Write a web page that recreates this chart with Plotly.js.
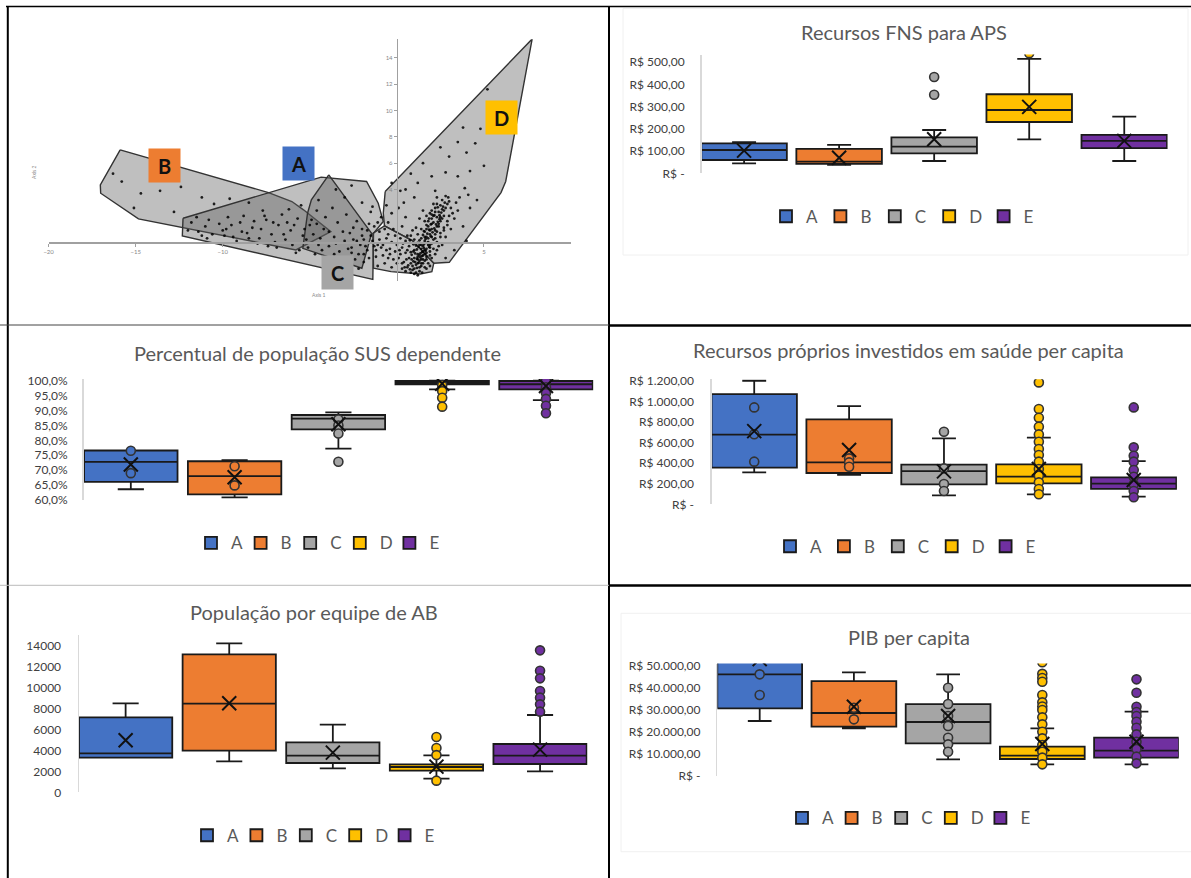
<!DOCTYPE html>
<html><head><meta charset="utf-8">
<script src="https://cdn.plot.ly/plotly-3.0.1.min.js"></script>
<style>html,body{margin:0;padding:0;background:#fff;}#chart{width:1191px;height:878px;}</style>
</head><body><div id="chart"></div>
<script>
const W = 1191, H = 878;
const clusters = ['A','B','C','D','E'];
const colors = ['#4472C4','#ED7D31','#A5A5A5','#FFC000','#7030A0'];

// ---------- Panel 1: cluster map (Axis 1 x Axis 2) ----------
const hullB = [[-15.89,7.01],[-17.03,4.35],[-17.01,3.72],[-14.84,1.77],[-5.80,-0.58],[-3.79,0.81],[-5.36,2.46],[-6.03,3.09],[-7.37,3.77]];
const hullA = [[-12.28,1.82],[-4.35,4.94],[-1.74,4.61],[-1.07,2.96],[-0.78,1.57],[-1.34,0.68],[-1.38,-2.81],[-12.32,0.48]];
const hullC = [[-3.91,5.11],[-4.91,3.22],[-5.13,2.20],[-5.40,-0.46],[-2.01,-1.97],[-1.45,0.68]];
const hullD = [[-0.67,3.85],[7.77,15.42],[6.25,4.61],[5.98,3.77],[3.01,-1.52],[2.12,-1.59],[0.89,0.13],[-0.71,1.24],[-0.78,2.20]];
const hullE = [[-0.71,1.24],[0.89,0.13],[2.12,-1.59],[2.01,-2.23],[1.34,-2.41],[-0.33,-2.23],[-1.34,-1.97],[-1.38,0.68]];
const cloudPoints = [
[0.6,-1.9],[0.8,-1.6],[0.9,-2.1],[1.0,-1.2],[1.1,-1.7],[1.2,-0.9],[1.0,-0.6],[1.3,-1.4],[1.4,-0.5],[1.5,-1.0],
[1.3,-0.2],[1.6,0.1],[1.5,-0.3],[1.7,0.4],[1.8,-0.2],[1.6,0.8],[1.9,0.6],[2.0,1.0],[1.8,1.2],[2.1,1.5],
[2.2,0.9],[2.0,1.8],[2.3,1.9],[2.4,2.3],[2.2,2.6],[2.5,2.8],[2.6,3.2],[2.7,2.4],[2.8,3.5],[2.4,1.4],
[2.6,1.8],[2.9,2.9],[3.0,3.1],[1.1,-2.3],[0.7,-1.2],[0.5,-0.8],[0.4,-1.5],[0.2,-0.9],[0.3,-0.4],[0.1,-1.2],
[-0.1,-0.7],[0.0,-0.2],[0.2,0.3],[0.5,0.1],[0.7,-0.3],[0.8,0.5],[1.0,0.2],[1.2,0.6],[1.4,1.0],[1.1,1.1],
[0.9,0.9],[1.6,1.6],[1.9,2.2],[1.7,2.0],[2.1,2.9],[2.3,3.4],[1.5,2.4],[1.3,1.8],[1.2,-1.1],[1.4,-1.8],
[1.7,-1.3],[1.9,-0.7],[2.0,-0.1],[2.2,0.3],[2.5,0.7],[1.6,-0.6],[1.8,0.0],[1.45,-0.75],[1.25,-0.35],[1.05,-0.85],
[0.95,-1.45],[1.15,-1.95],[1.35,-1.15],[1.55,-0.15],[1.75,0.65],[1.95,1.35],[2.15,2.05],[2.35,2.65],[2.55,2.25],[1.85,0.95],
[1.65,0.25],[1.5,0.55],[1.3,0.15],[1.1,-0.25],[0.85,-0.95],[0.65,-1.75],[0.75,-2.05],[1.0,-2.0],[1.3,-2.2],[1.6,-1.9],
[1.8,-1.6],[2.0,-1.2],[2.3,-0.6],[2.6,-0.2],[2.8,0.4],[3.1,1.0],[3.3,1.8],[3.5,2.4],[3.2,2.2],[2.9,1.6],
[2.7,1.1],[3.4,3.0],[3.6,3.4],[1.4,-1.6],[1.5,-1.3],[1.6,-0.9],[1.7,-0.5],[1.8,0.3],[1.9,0.9],[2.0,1.4],
[2.1,2.0],[2.2,2.3],[1.2,-1.6],[1.3,-1.0],[1.4,-0.2],[1.6,0.4],[1.7,1.0],[1.8,1.6],[2.0,2.4],[2.3,2.9],
[1.3,-1.9],[1.5,-1.6],[1.7,-1.1],[1.9,-0.4],[2.1,0.2],[2.3,0.8],[2.4,1.2],[2.5,1.6],[2.7,2.0],[2.8,2.6],
[1.2,-1.3],[1.4,-1.3],[1.6,-1.4],[1.5,-0.7],[1.7,-0.8],[1.9,-0.2],[2.0,0.4],[2.2,0.6],[2.3,1.2],[2.5,1.9],
[1.35,-0.85],[1.55,-0.45],[1.75,-0.05],[1.95,0.45],[2.15,1.05],[2.35,1.55],[2.45,2.05],[2.65,2.7],[2.75,3.0],[2.95,3.4],
[1.25,-1.55],[1.45,-1.05],[1.65,-0.65],[1.85,-0.35],[2.05,0.75],[2.25,1.35],[2.45,1.75],[2.6,2.5],[1.15,-1.25],[1.05,-1.5],
[0.9,-1.8],[0.85,-1.3],[0.95,-0.7],[1.15,-0.55],[1.2,-0.05],[1.4,0.3],[1.55,0.85],[1.7,1.3],[1.85,1.8],[2.0,2.1],
[0.55,-1.3],[0.45,-1.9],[0.3,-1.6],[0.15,-0.6],[0.35,-0.1],[0.6,0.5],[0.75,0.15],[0.95,-0.15],[0.6,-0.6],[0.8,-0.75],
[1.9,-1.0],[2.1,-0.5],[2.3,0.0],[2.5,0.4],[2.7,0.9],[2.9,1.3],[3.0,2.0],[3.1,2.6],[2.2,-0.9],[2.4,-0.3],
[1.0,-2.4],[1.2,-2.5],[0.8,-2.3],[1.45,-2.3],[1.7,-2.0],[1.9,-1.8],[0.5,-2.2],[0.3,-2.0],[0.0,-1.6],[-0.2,-1.3],
[-0.4,-0.9],[-0.6,-0.6],[-0.8,-0.2],[-1.0,0.2],[-0.3,0.0],[-0.5,0.6],[-0.9,-0.4],[-1.3,-0.3],[-1.5,0.5],[-1.9,-0.9],
[-2.3,0.1],[-2.6,-0.4],[-1.7,-0.6],[-1.2,-1.1],[-0.7,1.0],[-1.1,1.5],[-1.6,1.4],[-2.0,1.0],[-2.5,1.1],[-3.1,0.8],
[-2.8,-0.5],[-2.5,0.2],[-2.2,-0.9],[-2.0,0.5],[-1.8,-0.3],[-1.6,-1.2],[-1.4,0.1],[-1.2,-0.6],[-1.0,0.8],[-0.8,-1.0],
[-0.6,0.3],[-0.4,-0.5],[-0.2,1.0],[-0.5,1.5],[-0.9,1.9],[-1.3,1.2],[-1.7,0.9],[-2.1,-0.2],[-2.4,-1.3],[-2.7,0.7],
[-3.0,0.1],[-3.3,-0.7],[-3.6,0.4],[-3.9,-0.3],[-4.2,1.0],[-4.5,-0.2],[-4.8,0.6],[-5.1,-0.4],[-3.4,1.5],[-2.9,2.1],
[-3.7,2.6],[-4.1,1.9],[-2.3,1.6],[-1.5,2.3],[-0.7,-1.6],[-0.3,-1.9],[-1.1,-1.8],[-1.9,-1.5],[-2.6,-1.6],[-0.1,0.5],
[-0.3,2.2],[-0.6,2.8],[0.3,1.2],[0.5,1.9],[0.1,2.6],[0.4,3.0],[-4.6,2.4],[-5.0,1.3],[-5.4,0.5],[-5.7,1.8],
[-6.1,0.9],[-6.4,0.2],[-6.8,1.3],[-7.2,0.6],[-7.5,1.7],[-7.9,0.3],[-8.3,1.1],[-8.6,0.7],[-9.0,1.5],[-9.4,0.4],
[-9.8,1.0],[-10.2,1.4],[-10.6,0.6],[-11.0,1.2],[-11.4,0.8],[-11.8,1.5],[-6.6,2.1],[-7.7,2.4],[-8.8,2.0],[-9.7,1.9],
[-6.0,-0.2],[-7.0,0.0],[-8.0,-0.1],[-5.6,-0.6],[-4.7,-0.9],[-3.8,-1.2],[-3.1,-1.7],[-2.2,-2.0],[-10.9,0.3],[-12.0,0.9],
[-9.2,0.1],[-7.4,-0.3],[-6.3,1.5],[-5.3,1.0],[-4.4,0.3],[-3.5,-0.1],[-2.6,-0.8],[-1.9,0.2],[-1.1,-0.2],[-0.5,-1.2],
[-11.5,1.9],[-10.8,1.7],[-10.0,0.9],[-9.5,1.3],[-8.9,0.8],[-8.2,1.6],[-7.8,1.0],[-7.1,1.5],[-6.5,0.6],[-5.9,1.3],
[-5.2,0.2],[-4.9,1.7],[-8.5,0.3],[-9.9,0.5],[-11.2,0.5],[-6.9,-0.4],[-5.8,-0.8],[-4.3,-0.6],[-3.6,-0.9],[-2.9,-1.2],
[-7.6,2.0],[-6.2,2.5],[-5.5,2.8],[-4.6,1.4],[-3.9,0.8],
[-15.8,4.6],[-14.7,3.7],[-13.6,3.9],[-12.4,4.2],[-11.2,3.4],[-16.3,5.2],[-15.1,2.6],[-12.8,2.3],[-10.5,2.9],[-9.6,3.3],
[-8.5,3.0],[-3.5,4.0],[-2.6,4.3],[-4.5,3.2],[-3.0,3.4],[-2.0,3.0],[-1.4,2.7],
[0.5,4.0],[1.2,4.5],[2.0,5.0],[2.8,5.3],[3.5,5.0],[4.2,5.4],[3.0,6.5],[4.0,6.8],[2.5,7.2],[3.5,7.6],
[4.5,7.5],[1.5,6.0],[0.8,5.2],[2.2,3.9],[3.9,4.1],[4.6,3.2],[4.2,2.6],[3.8,1.2],[4.0,0.1],[3.3,-0.6],
[2.8,-1.2],[5.0,5.8],[5.4,9.0],[4.8,8.6],[3.8,8.7],[5.2,11.6],[4.1,3.6],[1.0,3.4],[0.2,3.9],[-0.3,4.5]
];
const axis1Ticks = [-20,-15,-10,5];
const axis2Ticks = [4,6,8,10,12,14];
const labelPos = {A:[-5.67,6.0], B:[-13.33,5.84], C:[-3.42,-2.28], D:[5.98,9.49], E:[2.68,-3.27]};

// ---------- Panel 2: Recursos FNS para APS ----------
const fnsQ1 = [60,42,90,231,113];
const fnsMedian = [105,52.5,120,285,146];
const fnsQ3 = [135,110,162,356,173];
const fnsLower = [45,38,55.5,153,55.5];
const fnsUpper = [140,128,195,515,255];
const fnsMean = [102,70,153,299,146];
const fnsPoints = [[],[],[434,354],[541],[]];
const fnsTickVals = [0,100,200,300,400,500];
const fnsTickText = ['R$ -','R$ 100,00','R$ 200,00','R$ 300,00','R$ 400,00','R$ 500,00'];

// ---------- Panel 3: Percentual de população SUS dependente ----------
const susQ1 = [66.1,61.9,83.7,98.8,97.1];
const susMedian = [72.8,68.0,87.3,99.4,98.8];
const susQ3 = [76.6,73.0,88.5,99.9,99.9];
const susLower = [63.6,60.9,77.2,97.1,93.5];
const susUpper = [76.6,73.4,89.4,100.0,100.0];
const susMean = [71.9,67.6,85.4,99.0,98.2];
const susPoints = [[76.5,69.0],[71.3,64.9],[87.0,85.0,82.3,72.8],[98.5,96.5,94.3,91.3],[99.9,97.8,95.8,93.9,91.6,89.1]];
const susTickVals = [60,65,70,75,80,85,90,95,100];
const susTickText = ['60,0%','65,0%','70,0%','75,0%','80,0%','85,0%','90,0%','95,0%','100,0%'];

// ---------- Panel 4: Recursos próprios investidos em saúde per capita ----------
const rpQ1 = [356,304,194,204,149];
const rpMedian = [676,407,323,268,200];
const rpQ3 = [1070,825,385,388,262];
const rpLower = [310,285,87,97,74];
const rpUpper = [1200,954,640,647,420];
const rpMean = [711,527,320,343,236];
const rpPoints = [[941,680,414],[446,407,365],[705,349,197,129],[1184,925,841,754,679,608,537,479,414,343,278,213,149,97],[941,553,472,414,333,268,194,129,68]];
const rpTickVals = [0,200,400,600,800,1000,1200];
const rpTickText = ['R$ -','R$ 200,00','R$ 400,00','R$ 600,00','R$ 800,00','R$ 1.000,00','R$ 1.200,00'];

// ---------- Panel 5: População por equipe de AB ----------
const popQ1 = [3309,3977,2800,2068,2704];
const popMedian = [3723,8463,3500,2418,3500];
const popQ3 = [7159,13172,4773,2673,4613];
const popLower = [3309,2959,2291,1304,2004];
const popUpper = [8495,14222,6459,3532,7381];
const popMean = [4963,8495,3786,2450,4072];
const popPoints = [[],[],[],[5282,4232,3550,1114],[13554,11613,10881,9672,9036,8400,7700]];
const popTickVals = [0,2000,4000,6000,8000,10000,12000,14000];
const popTickText = ['0','2000','4000','6000','8000','10000','12000','14000'];

// ---------- Panel 6: PIB per capita ----------
const pibQ1 = [30665,22356,14804,7704,8308];
const pibMedian = [46073,28550,24471,9215,11480];
const pibQ3 = [55000,43051,32628,13293,17372];
const pibLower = [24924,21601,7553,5287,5287];
const pibUpper = [60000,46979,46073,21601,29154];
const pibMean = [53000,31420,27190,14502,15559];
const pibPoints = [[46073,36707],[30967,25680],[40030,32628,27190,22659,17372,14350,11027],
  [51600,46300,44400,42749,36707,33384,31500,29909,26586,23414,20091,17069,14048,11027,8308,5287],
  [43807,37764,31420,29000,27190,24622,21903,18882,15559,12236,8761,5740]];
const pibTickVals = [0,10000,20000,30000,40000,50000];
const pibTickText = ['R$ -','R$ 10.000,00','R$ 20.000,00','R$ 30.000,00','R$ 40.000,00','R$ 50.000,00'];

const titles = ['Recursos FNS para APS','Percentual de população SUS dependente','Recursos próprios investidos em saúde per capita','População por equipe de AB','PIB per capita'];

// ---------- helpers ----------
const px = v => v / W;
const py = v => 1 - v / H;
const FONT = 'Lato, "Open Sans", sans-serif';

const traces = [];
const annotations = [];
const layout = {
  width: W, height: H, margin: {l:0, r:0, t:0, b:0},
  paper_bgcolor: '#fff', plot_bgcolor: 'rgba(0,0,0,0)',
  showlegend: true, font: {family: FONT}, annotations: annotations, shapes: []
};

// Panel 1 traces
const hulls = {B: hullB, A: hullA, C: hullC, D: hullD, E: hullE};
['B','A','C','D','E'].forEach(k => {
  const h = hulls[k].concat([hulls[k][0]]);
  traces.push({type:'scatter', mode:'lines', x:h.map(p=>p[0]), y:h.map(p=>p[1]), fill:'toself',
    fillcolor:'rgba(95,95,95,0.40)', line:{color:'#333', width:1.4}, xaxis:'x', yaxis:'y',
    showlegend:false, hoverinfo:'skip'});
});
traces.push({type:'scatter', mode:'markers', x:cloudPoints.map(p=>p[0]), y:cloudPoints.map(p=>p[1]),
  marker:{size:2.8, color:'rgba(0,0,0,0.85)'}, xaxis:'x', yaxis:'y', showlegend:false, hoverinfo:'skip'});
clusters.forEach((c,i) => {
  annotations.push({x:labelPos[c][0], y:labelPos[c][1], xref:'x', yref:'y', text:'<b>'+c+'</b>',
    showarrow:false, bgcolor:colors[i], width:31, height:33, borderpad:0,
    font:{family:FONT, size:20, color:'#111'}});
});
layout.xaxis = {domain:[px(48.6), px(571)], range:[-20,10], anchor:'free', position:py(242.3),
  showline:true, linecolor:'#a0a0a0', linewidth:1.5, ticks:'outside', ticklen:3, tickcolor:'#a0a0a0',
  tickvals:axis1Ticks, tickfont:{size:6, color:'#888'}, showgrid:false, zeroline:false, fixedrange:true};
layout.yaxis = {domain:[py(280.5), py(39.2)], range:[-2.9,15.4], anchor:'free', position:px(396.8),
  showline:true, linecolor:'#a0a0a0', linewidth:1.5, ticks:'outside', ticklen:3, tickcolor:'#a0a0a0',
  tickvals:axis2Ticks, tickfont:{size:6, color:'#888'}, showgrid:false, zeroline:false, fixedrange:true};
annotations.push({x:px(310), y:py(295), xref:'paper', yref:'paper', text:'Axis 1', showarrow:false, font:{size:5, color:'#888'}});
annotations.push({x:px(29), y:py(163), xref:'paper', yref:'paper', text:'Axis 2', textangle:-90, showarrow:false, font:{size:5, color:'#888'}});

// Box panels
const panels = [
  {q1:fnsQ1, med:fnsMedian, q3:fnsQ3, lo:fnsLower, hi:fnsUpper, mean:fnsMean, pts:fnsPoints, tv:fnsTickVals, tt:fnsTickText,
   yr:[0,535], xd:[701.5,1167.6], yd:[54.5,173.3], xr:[-0.448,4.456], title:[903.8,32.3], leg:[766,216.7,9.4], stand:13},
  {q1:susQ1, med:susMedian, q3:susQ3, lo:susLower, hi:susUpper, mean:susMean, pts:susPoints, tv:susTickVals, tt:susTickText,
   yr:[59.9,100.6], xd:[83.6,593.3], yd:[378.9,500.3], xr:[-0.455,4.456], title:[317,353.3], leg:[191,543.3,4.6], stand:12},
  {q1:rpQ1, med:rpMedian, q3:rpQ3, lo:rpLower, hi:rpUpper, mean:rpMean, pts:rpPoints, tv:rpTickVals, tt:rpTickText,
   yr:[0,1215], xd:[711.9,1176.9], yd:[379.2,504.3], xr:[-0.446,4.455], title:[908.6,350], leg:[770,546.7,8.9], stand:14},
  {q1:popQ1, med:popMedian, q3:popQ3, lo:popLower, hi:popUpper, mean:popMean, pts:popPoints, tv:popTickVals, tt:popTickText,
   yr:[0,15020], xd:[79,587.4], yd:[635,792.3], xr:[-0.45,4.457], title:[313.6,612.3], leg:[187,835.7,4.4], stand:14},
  {q1:pibQ1, med:pibMedian, q3:pibQ3, lo:pibLower, hi:pibUpper, mean:pibMean, pts:pibPoints, tv:pibTickVals, tt:pibTickText,
   yr:[0,51000], xd:[717.4,1178.7], yd:[663.5,776], xr:[-0.449,4.448], title:[908.6,637.3], leg:[782,818.3,4.6], stand:13}
];

panels.forEach((p, k) => {
  const n = k + 2;
  const xa = 'x' + n, ya = 'y' + n;
  const legId = k === 0 ? 'legend' : 'legend' + (k + 1);
  clusters.forEach((c, i) => {
    traces.push({type:'box', name:c, x:[c], q1:[p.q1[i]], median:[p.med[i]], q3:[p.q3[i]],
      lowerfence:[p.lo[i]], upperfence:[p.hi[i]], boxpoints:false, width:0.9, whiskerwidth:0.28,
      fillcolor:colors[i], line:{color:'#1a1a1a', width:1.8}, xaxis:xa, yaxis:ya,
      legend:legId, showlegend:true, hoverinfo:'skip'});
  });
  clusters.forEach((c, i) => {
    if (!p.pts[i].length) return;
    traces.push({type:'scatter', mode:'markers', x:p.pts[i].map(()=>c), y:p.pts[i],
      marker:{symbol:'circle', size:9, color:colors[i], line:{color:'#333', width:1.6}},
      xaxis:xa, yaxis:ya, showlegend:false, hoverinfo:'skip'});
  });
  traces.push({type:'scatter', mode:'markers', x:clusters, y:p.mean,
    marker:{symbol:'x-thin-open', size:14, color:'#111', line:{color:'#111', width:2}},
    xaxis:xa, yaxis:ya, showlegend:false, hoverinfo:'skip'});
  layout['xaxis' + n] = {type:'category', categoryorder:'array', categoryarray:clusters,
    domain:[px(p.xd[0]), px(p.xd[1])], range:p.xr, anchor:ya, showticklabels:false, showline:false,
    showgrid:false, zeroline:false, ticks:'', fixedrange:true};
  layout['yaxis' + n] = {domain:[py(p.yd[1]), py(p.yd[0])], range:p.yr, anchor:xa, tickvals:p.tv, ticktext:p.tt,
    showline:true, linecolor:'#d9d9d9', linewidth:1.5, showgrid:false, zeroline:false, ticks:'',
    ticklabelstandoff:p.stand, tickfont:{family:FONT, size:12, color:'#404040'}, fixedrange:true};
  layout[legId] = {orientation:'h', x:px(p.leg[0]), xanchor:'left', y:py(p.leg[1]), yanchor:'middle',
    entrywidth:p.leg[2], entrywidthmode:'pixels', bgcolor:'rgba(0,0,0,0)', borderwidth:0,
    font:{family:FONT, size:17, color:'#595959'}, traceorder:'normal'};
  annotations.push({x:px(p.title[0]), y:py(p.title[1]), xref:'paper', yref:'paper', text:titles[k],
    showarrow:false, xanchor:'center', yanchor:'middle', font:{family:FONT, size:20, color:'#595959'}});
});

// table borders
const line = (x0,y0,x1,y1,color,w) => ({type:'line', xref:'paper', yref:'paper', x0:px(x0), y0:py(y0), x1:px(x1), y1:py(y1), line:{color:color, width:w}});
layout.shapes.push(
  {type:'rect', xref:'paper', yref:'paper', x0:px(623), y0:py(255), x1:px(1188), y1:py(8.5), line:{color:'#f0f0f0', width:1}},
  {type:'rect', xref:'paper', yref:'paper', x0:px(621), y0:py(851.7), x1:px(1195), y1:py(613.3), line:{color:'#f0f0f0', width:1}},
  line(6,6.5,1191,6.5,'#000',1.5),
  line(7.8,6,7.8,878,'#000',2),
  line(609,6,609,878,'#000',2),
  line(0,325,609,325,'#444',1),
  line(609,325.5,1191,325.5,'#000',2.5),
  line(0,585.3,609,585.3,'#bbb',1),
  line(609,585.5,1191,585.5,'#000',2.5)
);

Plotly.newPlot('chart', traces, layout, {staticPlot:true, displayModeBar:false});
</script></body></html>
